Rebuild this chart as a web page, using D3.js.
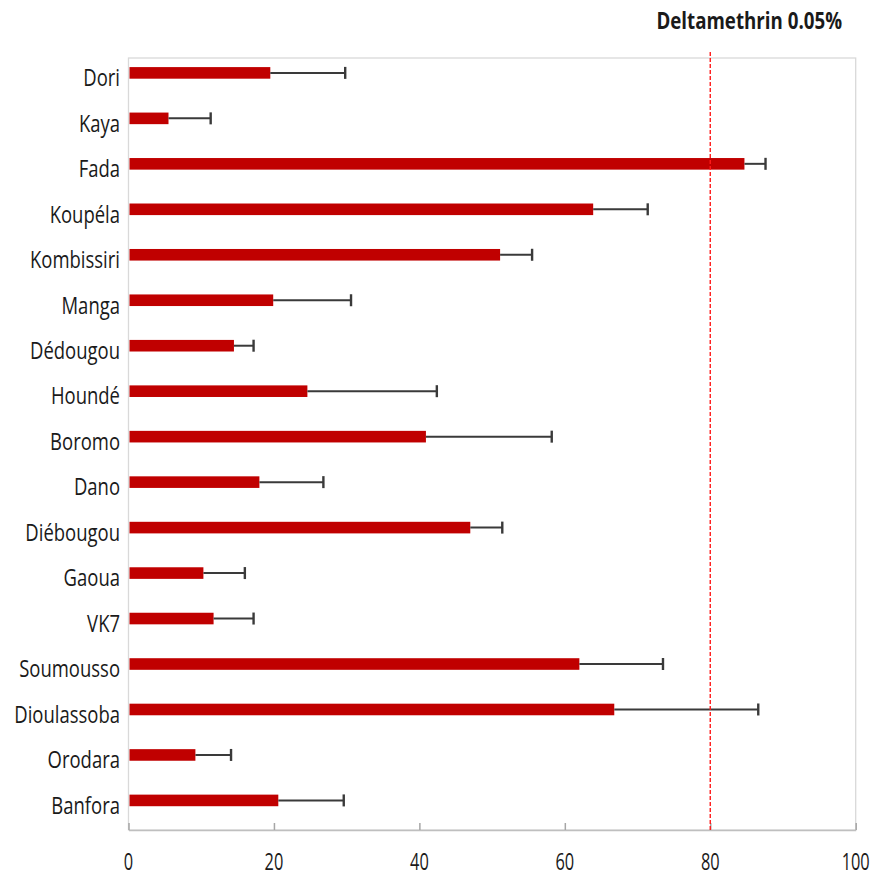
<!DOCTYPE html>
<html>
<head>
<meta charset="utf-8">
<script src="https://cdn.jsdelivr.net/npm/d3@7"></script>
<style>
  html, body { margin: 0; padding: 0; background: #fff; }
  svg { display: block; }
</style>
</head>
<body>
<svg id="chart" width="876" height="877"></svg>
<script>
// Sites, top to bottom
const categories = ["Dori", "Kaya", "Fada", "Koupéla", "Kombissiri", "Manga", "Dédougou",
  "Houndé", "Boromo", "Dano", "Diébougou", "Gaoua", "VK7", "Soumousso",
  "Dioulassoba", "Orodara", "Banfora"];
// Mortality (%) after deltamethrin 0.05% exposure
const mortality = [19.5, 5.5, 84.7, 63.9, 51.1, 19.9, 14.5,
  24.6, 40.9, 18.0, 47.0, 10.3, 11.7, 62.0,
  66.8, 9.2, 20.6];
// Upper error (+) for each site
const errorPlus = [10.3, 5.8, 2.9, 7.5, 4.4, 10.7, 2.7,
  17.8, 17.3, 8.8, 4.4, 5.7, 5.5, 11.5,
  19.8, 4.9, 9.0];
const xTicks = [0, 20, 40, 60, 80, 100];
const threshold = 80;
const title = "Deltamethrin 0.05%";

const svg = d3.select("#chart");
const plotLeft = 128.5, plotRight = 855.7, plotTop = 58, plotBottom = 831;

const x = d3.scaleLinear().domain([0, 100]).range([plotLeft, plotRight]);
const y = d3.scaleBand().domain(categories).range([plotTop, plotBottom]).padding(0);
const bw = y.bandwidth();

const font = "'Open Sans', 'DejaVu Sans', sans-serif";
const textColor = "#1a1a1a";

// Plot frame
svg.append("rect")
  .attr("x", plotLeft).attr("y", plotTop)
  .attr("width", plotRight - plotLeft).attr("height", plotBottom - 1 - plotTop)
  .attr("fill", "none").attr("stroke", "#d9d9d9").attr("stroke-width", 1.3);

// Bottom axis with inward ticks
const axisG = svg.append("g").attr("transform", `translate(0,${plotBottom - 1})`);
axisG.call(d3.axisBottom(x).tickValues(xTicks).tickSizeInner(-7).tickSizeOuter(0).tickFormat(""));
axisG.select(".domain").attr("stroke", "#bfbfbf").attr("stroke-width", 1.5);
axisG.selectAll(".tick line").attr("stroke", "#a6a6a6").attr("stroke-width", 1.5);

// Tick labels (narrow, tall face)
svg.append("g").selectAll("text")
  .data(xTicks).join("text")
  .attr("transform", d => `translate(${x(d)},870) scale(0.78,1.12)`)
  .attr("text-anchor", "middle")
  .attr("font-family", font).attr("font-size", 21)
  .attr("fill", textColor)
  .text(d => d);

// Category labels
svg.append("g").selectAll("text")
  .data(categories).join("text")
  .attr("transform", d => `translate(120,${y(d) + bw * 0.62}) scale(0.77,1)`)
  .attr("text-anchor", "end")
  .attr("font-family", font).attr("font-size", 24)
  .attr("fill", textColor)
  .text(d => d);

// Bars
const rows = categories.map((c, i) => ({ c, v: mortality[i], e: errorPlus[i] }));
svg.append("g").selectAll("rect")
  .data(rows).join("rect")
  .attr("x", x(0) + 1)
  .attr("y", d => y(d.c) + bw * 0.2)
  .attr("width", d => x(d.v) - x(0) - 1)
  .attr("height", bw * 0.255)
  .attr("fill", "#c00000");

// Error bars (plus direction only)
const err = svg.append("g").attr("stroke", "#3a3a3a").attr("stroke-width", 2);
err.selectAll("line.stem")
  .data(rows).join("line").attr("class", "stem")
  .attr("x1", d => x(d.v)).attr("x2", d => x(d.v + d.e))
  .attr("y1", d => y(d.c) + bw * 0.3275).attr("y2", d => y(d.c) + bw * 0.3275);
err.selectAll("line.cap")
  .data(rows).join("line").attr("class", "cap")
  .attr("stroke-width", 2.4)
  .attr("x1", d => x(d.v + d.e)).attr("x2", d => x(d.v + d.e))
  .attr("y1", d => y(d.c) + bw * 0.3275 - 6).attr("y2", d => y(d.c) + bw * 0.3275 + 6);

// Threshold line at 80 %
svg.append("line")
  .attr("x1", x(threshold)).attr("x2", x(threshold))
  .attr("y1", 52).attr("y2", plotBottom - 1)
  .attr("stroke", "#ff1a1a").attr("stroke-width", 1.4)
  .attr("stroke-dasharray", "4,2");

// Title
svg.append("text")
  .attr("transform", `translate(842,29) scale(0.78,1)`)
  .attr("text-anchor", "end")
  .attr("font-family", font).attr("font-size", 24).attr("font-weight", "bold")
  .attr("fill", textColor)
  .text(title);
</script>
</body>
</html>
